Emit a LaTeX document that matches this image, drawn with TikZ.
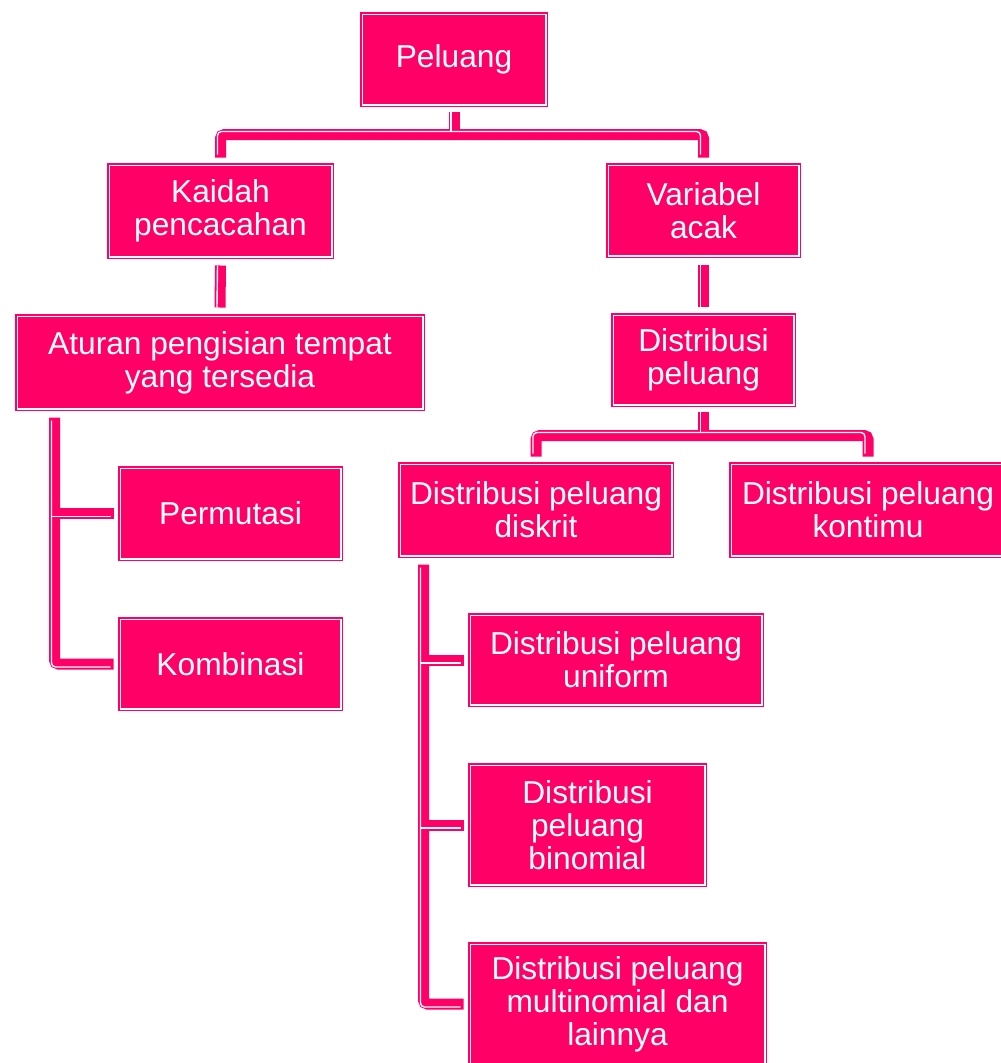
\documentclass[tikz,border=0pt]{standalone}
\usepackage{fontspec}
\setmainfont{Liberation Sans}
\definecolor{pk}{HTML}{FF0066}
\begin{document}
\begin{tikzpicture}[x=1pt,y=-1pt,
  box/.style={draw=pk, double=white, double distance=1.5pt, line width=1.5pt, fill=pk,
    text=white, align=center, inner sep=0pt, font=\fontsize{31.7}{33}\selectfont},
  con/.style={draw=pk, line width=11pt, rounded corners=4pt},
  conw/.style={draw=white, line width=1.4pt, rounded corners=4pt}]
\useasboundingbox (0,0) rectangle (1001,1063);
\clip (0,0) rectangle (1001,1063);
% nodes
\node[box, minimum width=183.5pt, minimum height=90.5pt] (peluang) at (454,59.5) {Peluang};
\node[box, minimum width=222.5pt, minimum height=91.5pt] (kaidah) at (220.5,211) {Kaidah\\pencacahan};
\node[box, minimum width=190.5pt, minimum height=90.5pt] (variabel) at (703.5,210.5) {Variabel\\acak};
\node[box, minimum width=405.5pt, minimum height=92.5pt] (aturan) at (220,362.5) {Aturan pengisian tempat\\yang tersedia};
\node[box, minimum width=180.5pt, minimum height=89.5pt] (distpel) at (703.5,360) {Distribusi\\peluang};
\node[box, minimum width=220.5pt, minimum height=90.5pt] (permutasi) at (230.5,513.5) {Permutasi};
\node[box, minimum width=220.5pt, minimum height=89.5pt] (kombinasi) at (230.5,664) {Kombinasi};
\node[box, minimum width=271.5pt, minimum height=91.5pt] (diskrit) at (536,510) {Distribusi peluang\\diskrit};
\node[box, minimum width=273.5pt, minimum height=91.5pt] (kontimu) at (868,510) {Distribusi peluang\\kontimu};
\node[box, minimum width=291.5pt, minimum height=89.5pt] (uniform) at (616,660) {Distribusi peluang\\uniform};
\node[box, minimum width=234.5pt, minimum height=119.5pt] (binomial) at (587.5,825) {Distribusi\\peluang\\binomial};
\node[box, minimum width=294.5pt, minimum height=119.5pt] (multi) at (617.5,1004) {Distribusi peluang\\multinomial dan\\lainnya};
% helper coordinates
\path (peluang.south) ++(0,29) coordinate (j1);
\path (distpel.south) ++(0,30) coordinate (j2);
\path ([xshift=38pt,yshift=-8pt]aturan.south west) coordinate (a0);
\path ([xshift=24pt,yshift=-8pt]diskrit.south west) coordinate (d0);
% pink connectors
\draw[con] ([yshift=-6pt]peluang.south) -- (j1);
\draw[con] ([yshift=7pt]kaidah.north) |- (j1) -| ([yshift=7pt]variabel.north);
\draw[con] ([yshift=-8pt]kaidah.south) -- ([yshift=8pt]aturan.north);
\draw[con] (a0) |- ([xshift=-6pt]kombinasi.west);
\draw[con] (a0 |- permutasi.west) -- ([xshift=-6pt]permutasi.west);
\draw[con] ([yshift=-8pt]variabel.south) -- ([yshift=8pt]distpel.north);
\draw[con] ([yshift=-6pt]distpel.south) -- (j2);
\draw[con] ([yshift=7pt]diskrit.north) |- (j2) -| ([yshift=7pt]kontimu.north);
\draw[con] (d0) |- ([xshift=-6pt]multi.west);
\draw[con] (d0 |- uniform.west) -- ([xshift=-6pt]uniform.west);
\draw[con] (d0 |- binomial.west) -- ([xshift=-6pt]binomial.west);
% white inner lines
\begin{scope}[transform canvas={shift={(-3pt,3pt)}}]
\draw[conw] ([yshift=-6pt]peluang.south) -- (j1);
\draw[conw] ([yshift=7pt]kaidah.north) |- (j1) -| ([yshift=7pt]variabel.north);
\draw[conw] ([yshift=-6pt]distpel.south) -- (j2);
\draw[conw] ([yshift=7pt]diskrit.north) |- (j2) -| ([yshift=7pt]kontimu.north);
\end{scope}
\begin{scope}[transform canvas={shift={(-3pt,0pt)}}]
\draw[conw] ([yshift=-8pt]kaidah.south) -- ([yshift=8pt]aturan.north);
\draw[conw] ([yshift=-8pt]variabel.south) -- ([yshift=8pt]distpel.north);
\end{scope}
\begin{scope}[transform canvas={shift={(-3pt,-3pt)}}]
\draw[conw] (a0) |- ([xshift=-6pt]kombinasi.west);
\draw[conw] (a0 |- permutasi.west) -- ([xshift=-6pt]permutasi.west);
\draw[conw] (d0) |- ([xshift=-6pt]multi.west);
\draw[conw] (d0 |- uniform.west) -- ([xshift=-6pt]uniform.west);
\draw[conw] (d0 |- binomial.west) -- ([xshift=-6pt]binomial.west);
\end{scope}
\end{tikzpicture}
\end{document}
